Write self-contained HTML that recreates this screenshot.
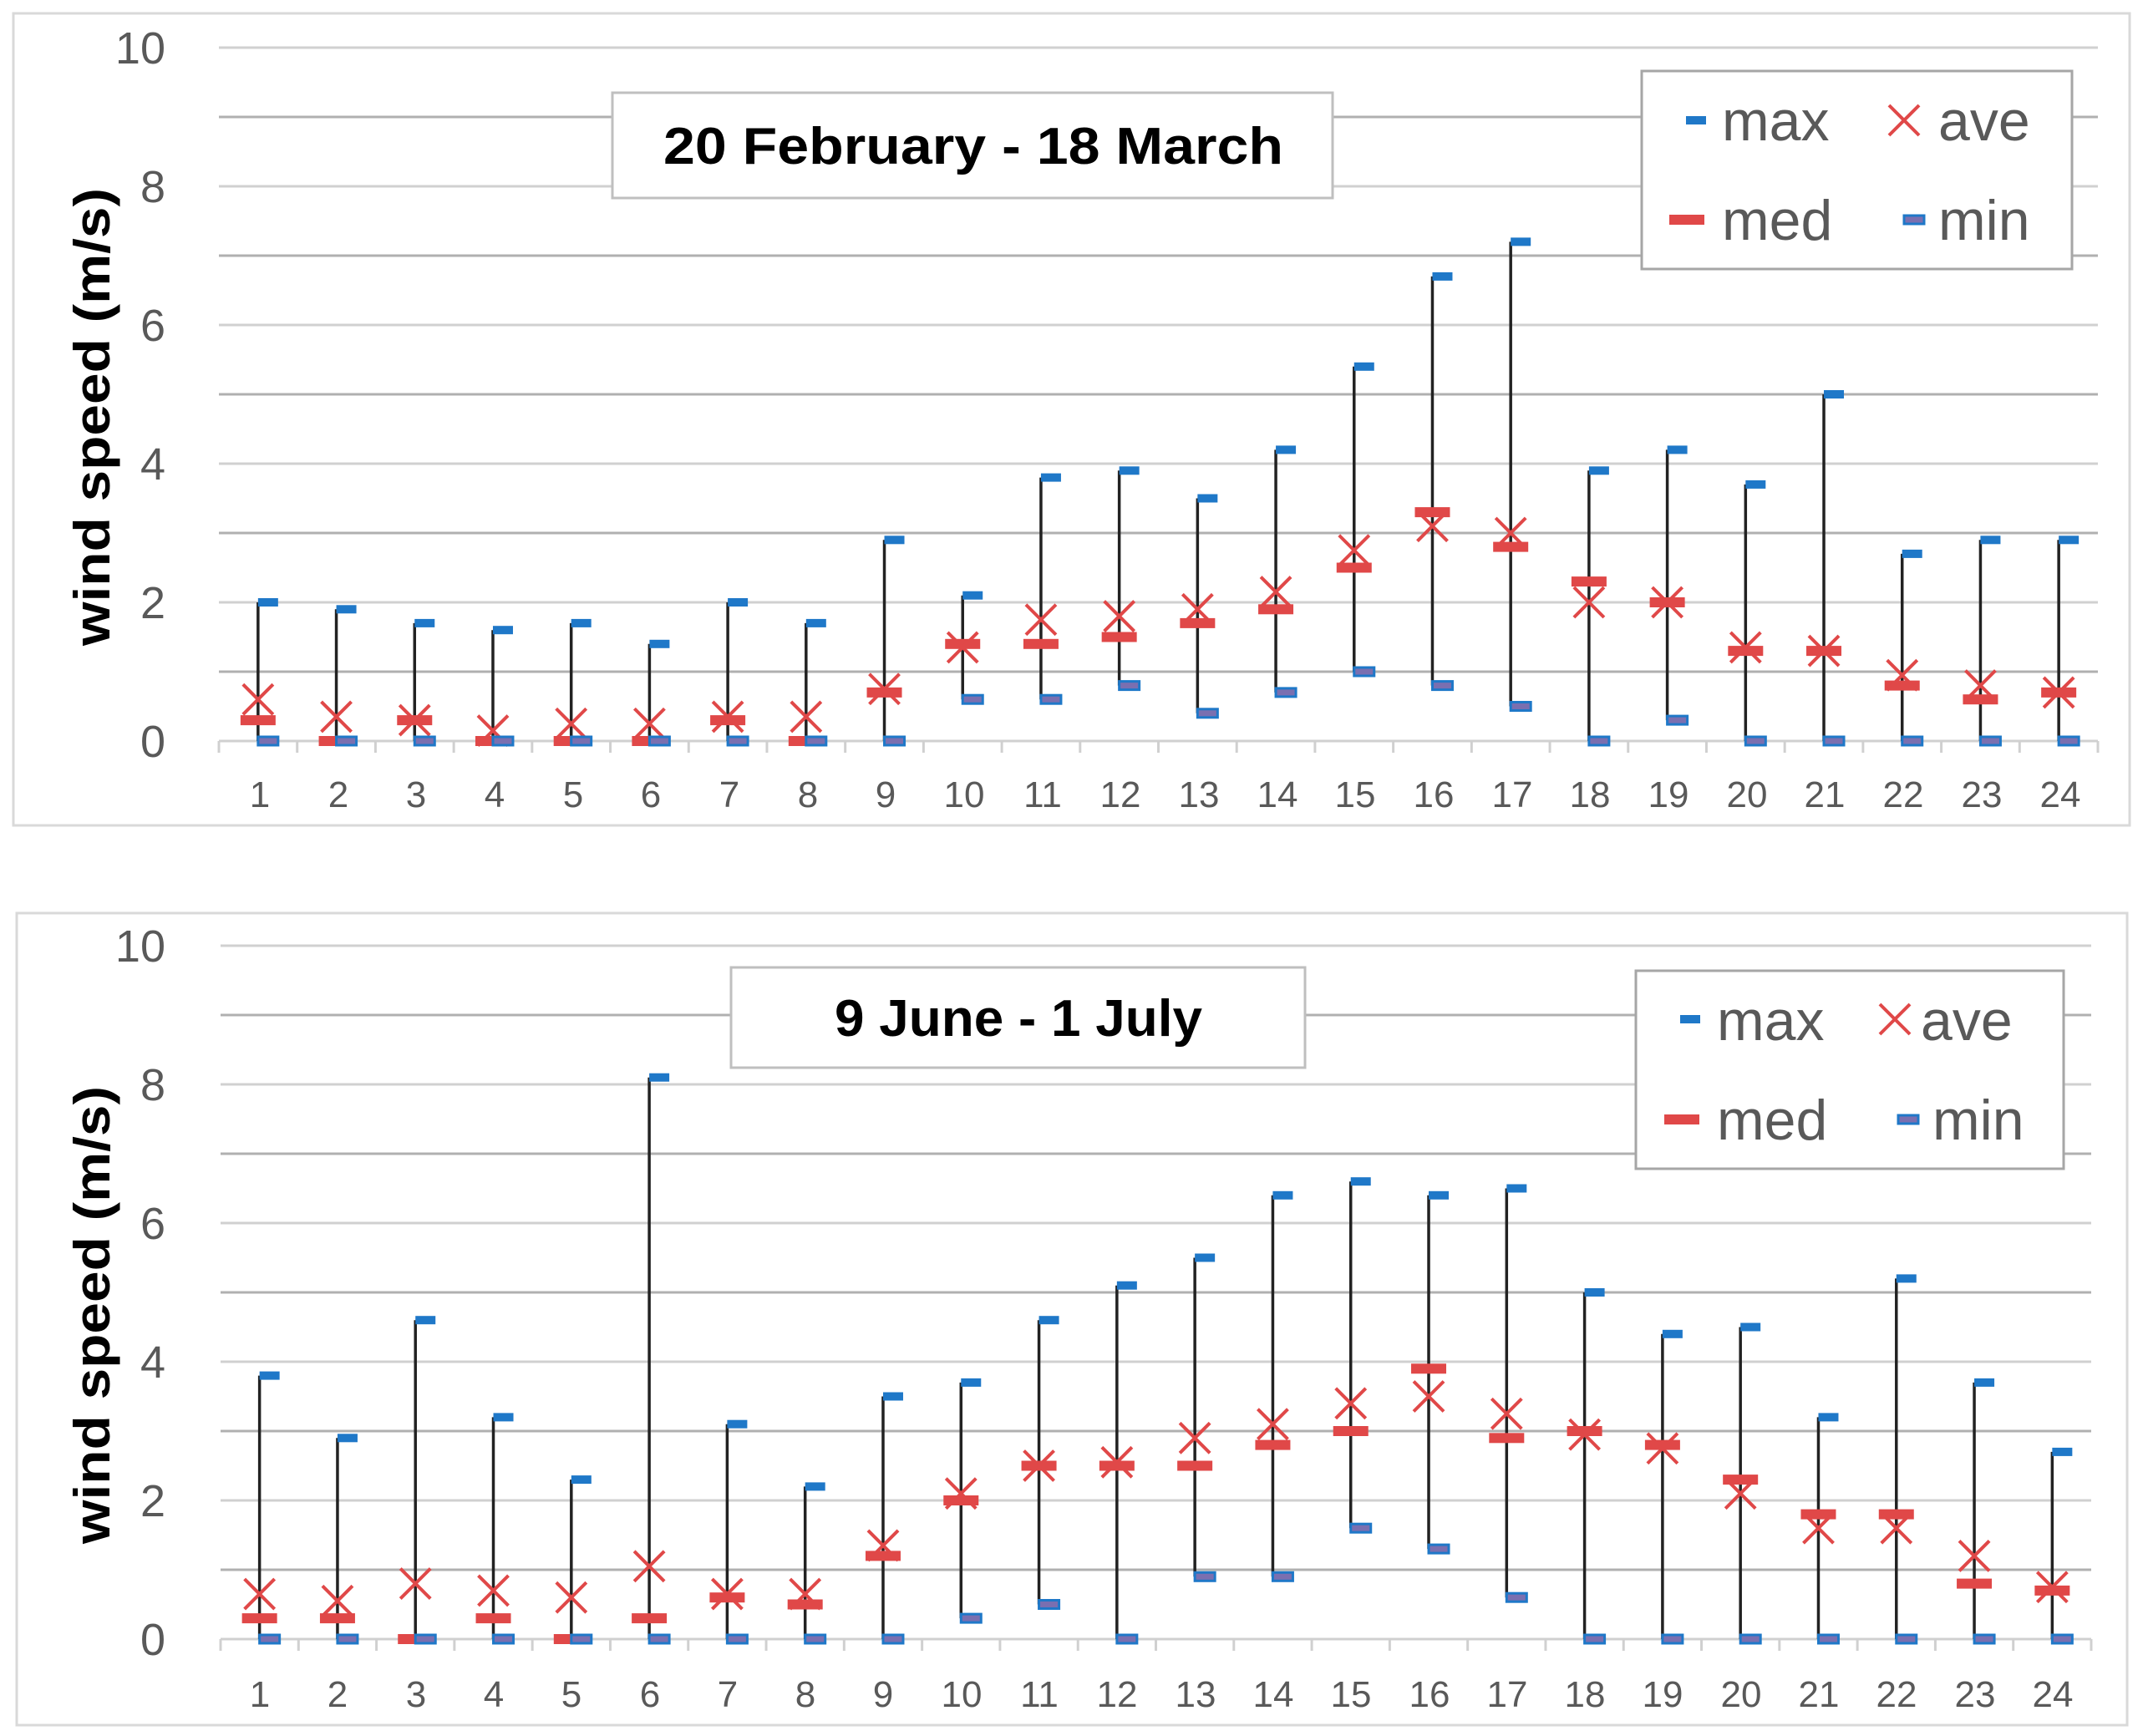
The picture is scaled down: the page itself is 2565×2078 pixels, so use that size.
<!DOCTYPE html>
<html><head><meta charset="utf-8"><style>
html,body{margin:0;padding:0;background:#fff;}
svg{display:block;}
text{font-family:"Liberation Sans",sans-serif;}
</style></head><body>
<svg id="s" width="2565" height="2078" viewBox="0 0 2565 2078" xmlns="http://www.w3.org/2000/svg">
<rect x="0" y="0" width="2565" height="2078" fill="#fff"/>
<rect x="16" y="16" width="2533" height="972" fill="#fff" stroke="#d9d9d9" stroke-width="3"/>
<rect x="20" y="1093" width="2526" height="972" fill="#fff" stroke="#d9d9d9" stroke-width="3"/>
<g id="g1"></g>
<g id="g2"></g>
<!-- y labels top -->
<g font-size="54" fill="#595959" text-anchor="end">
<text x="198" y="76">10</text><text x="198" y="242">8</text><text x="198" y="408">6</text><text x="198" y="574">4</text><text x="198" y="740">2</text><text x="198" y="906">0</text>
<text x="198" y="1151">10</text><text x="198" y="1317">8</text><text x="198" y="1483">6</text><text x="198" y="1649">4</text><text x="198" y="1815">2</text><text x="198" y="1981">0</text>
</g>
<g font-size="60" font-weight="bold" fill="#000" text-anchor="middle">
<text transform="translate(131,499) rotate(-90)" textLength="548" lengthAdjust="spacingAndGlyphs">wind speed (m/s)</text>
<text transform="translate(131,1574) rotate(-90)" textLength="548" lengthAdjust="spacingAndGlyphs">wind speed (m/s)</text>
</g>
<g font-size="44" fill="#595959" text-anchor="middle">
<text x="311" y="966">1</text><text x="405" y="966">2</text><text x="498" y="966">3</text><text x="592" y="966">4</text><text x="686" y="966">5</text><text x="779" y="966">6</text><text x="873" y="966">7</text><text x="967" y="966">8</text><text x="1060" y="966">9</text><text x="1154" y="966">10</text><text x="1248" y="966">11</text><text x="1341" y="966">12</text><text x="1435" y="966">13</text><text x="1529" y="966">14</text><text x="1622" y="966">15</text><text x="1716" y="966">16</text><text x="1810" y="966">17</text><text x="1903" y="966">18</text><text x="1997" y="966">19</text><text x="2091" y="966">20</text><text x="2184" y="966">21</text><text x="2278" y="966">22</text><text x="2372" y="966">23</text><text x="2466" y="966">24</text>
<text x="311" y="2043">1</text><text x="404" y="2043">2</text><text x="498" y="2043">3</text><text x="591" y="2043">4</text><text x="684" y="2043">5</text><text x="778" y="2043">6</text><text x="871" y="2043">7</text><text x="964" y="2043">8</text><text x="1057" y="2043">9</text><text x="1151" y="2043">10</text><text x="1244" y="2043">11</text><text x="1337" y="2043">12</text><text x="1431" y="2043">13</text><text x="1524" y="2043">14</text><text x="1617" y="2043">15</text><text x="1711" y="2043">16</text><text x="1804" y="2043">17</text><text x="1897" y="2043">18</text><text x="1990" y="2043">19</text><text x="2084" y="2043">20</text><text x="2177" y="2043">21</text><text x="2270" y="2043">22</text><text x="2364" y="2043">23</text><text x="2457" y="2043">24</text>
</g>
<!-- title boxes -->
<rect x="733" y="111" width="862" height="126" fill="#fff" stroke="#bfbfbf" stroke-width="3"/>
<text x="1165" y="196" font-size="62" font-weight="bold" text-anchor="middle" textLength="742" lengthAdjust="spacingAndGlyphs">20 February - 18 March</text>
<rect x="875" y="1158" width="687" height="120" fill="#fff" stroke="#bfbfbf" stroke-width="3"/>
<text x="1219" y="1240" font-size="62" font-weight="bold" text-anchor="middle" textLength="440" lengthAdjust="spacingAndGlyphs">9 June - 1 July</text>
<!-- legends -->
<rect x="1965" y="85" width="515" height="237" fill="#fff" stroke="#a6a6a6" stroke-width="3"/>
<g font-size="68" fill="#595959">
<text x="2061" y="168">max</text><text x="2320" y="168">ave</text>
<text x="2061" y="287">med</text><text x="2320" y="287">min</text>
</g>
<rect x="2018" y="139" width="24" height="10" fill="#1f78c8"/>
<path d="M2261,126 L2297,162 M2297,126 L2261,162" stroke="#e04848" stroke-width="4"/>
<rect x="1998" y="257" width="42" height="12" fill="#e04848"/>
<rect x="2279" y="258" width="24" height="10" fill="#7a6fb0" stroke="#1f78c8" stroke-width="3"/>
<rect x="1958" y="1162" width="512" height="237" fill="#fff" stroke="#a6a6a6" stroke-width="3"/>
<g font-size="68" fill="#595959">
<text x="2055" y="1245">max</text><text x="2299" y="1245">ave</text>
<text x="2055" y="1364">med</text><text x="2313" y="1364">min</text>
</g>
<rect x="2011" y="1215" width="24" height="10" fill="#1f78c8"/>
<path d="M2250,1202 L2286,1238 M2286,1202 L2250,1238" stroke="#e04848" stroke-width="4"/>
<rect x="1992" y="1334" width="42" height="12" fill="#e04848"/>
<rect x="2272" y="1335" width="24" height="10" fill="#7a6fb0" stroke="#1f78c8" stroke-width="3"/>
</svg>
<script>
(function(){
var NS="http://www.w3.org/2000/svg";
function el(g,t,a){var e=document.createElementNS(NS,t);for(var k in a)e.setAttribute(k,a[k]);g.appendChild(e);return e;}
var d1=[[2.0,0.3,0.6,0],[1.9,0,0.35,0],[1.7,0.3,0.3,0],[1.6,0,0.15,0],[1.7,0,0.25,0],[1.4,0,0.25,0],[2.0,0.3,0.35,0],[1.7,0,0.35,0],[2.9,0.7,0.75,0],[2.1,1.4,1.35,0.6],[3.8,1.4,1.75,0.6],[3.9,1.5,1.8,0.8],[3.5,1.7,1.9,0.4],[4.2,1.9,2.15,0.7],[5.4,2.5,2.75,1.0],[6.7,3.3,3.1,0.8],[7.2,2.8,3.0,0.5],[3.9,2.3,2.0,0],[4.2,2.0,2.0,0.3],[3.7,1.3,1.35,0],[5.0,1.3,1.3,0],[2.7,0.8,0.95,0],[2.9,0.6,0.8,0],[2.9,0.7,0.7,0]];
var d2=[[3.8,0.3,0.65,0],[2.9,0.3,0.55,0],[4.6,0,0.8,0],[3.2,0.3,0.7,0],[2.3,0,0.6,0],[8.1,0.3,1.05,0],[3.1,0.6,0.65,0],[2.2,0.5,0.65,0],[3.5,1.2,1.35,0],[3.7,2.0,2.1,0.3],[4.6,2.5,2.5,0.5],[5.1,2.5,2.55,0],[5.5,2.5,2.9,0.9],[6.4,2.8,3.1,0.9],[6.6,3.0,3.4,1.6],[6.4,3.9,3.5,1.3],[6.5,2.9,3.25,0.6],[5.0,3.0,2.95,0],[4.4,2.8,2.75,0],[4.5,2.3,2.1,0],[3.2,1.8,1.6,0],[5.2,1.8,1.6,0],[3.7,0.8,1.2,0],[2.7,0.7,0.75,0]];
function chart(g,d,left,right,y0){
 var u=83,step=(right-left)/24;
 for(var v=1;v<=10;v++){var y=y0-u*v;el(g,"line",{x1:left,x2:right,y1:y,y2:y,stroke:(v%2?"#b0b0b0":"#d0d0d0"),"stroke-width":3});}
 el(g,"line",{x1:left,x2:right,y1:y0,y2:y0,stroke:"#d0d0d0","stroke-width":3});
 for(var i=0;i<=24;i++){var x=left+step*i;el(g,"line",{x1:x,x2:x,y1:y0,y2:y0+14,stroke:"#d0d0d0","stroke-width":3});}
 d.forEach(function(r,i){
  var x=left+step*(i+0.5),Y=function(v){return y0-u*v;};
  el(g,"line",{x1:x,x2:x,y1:Y(r[0]),y2:Y(r[3]),stroke:"#222","stroke-width":3.5});
  el(g,"rect",{x:x-21,y:Y(r[1])-6,width:42,height:12,fill:"#e04848"});
  var a=Y(r[2]),s=18;
  el(g,"path",{d:"M"+(x-s)+","+(a-s)+"L"+(x+s)+","+(a+s)+"M"+(x+s)+","+(a-s)+"L"+(x-s)+","+(a+s),stroke:"#e04848","stroke-width":4,fill:"none"});
  el(g,"rect",{x:x,y:Y(r[0])-5,width:24,height:10,fill:"#1f78c8"});
  el(g,"rect",{x:x,y:Y(r[3])-5,width:24,height:10,fill:"#7a6fb0",stroke:"#1f78c8","stroke-width":3});
 });
}
chart(document.getElementById("g1"),d1,262,2511,887);
chart(document.getElementById("g2"),d2,264,2503,1962);
})();
</script>
</body></html>
